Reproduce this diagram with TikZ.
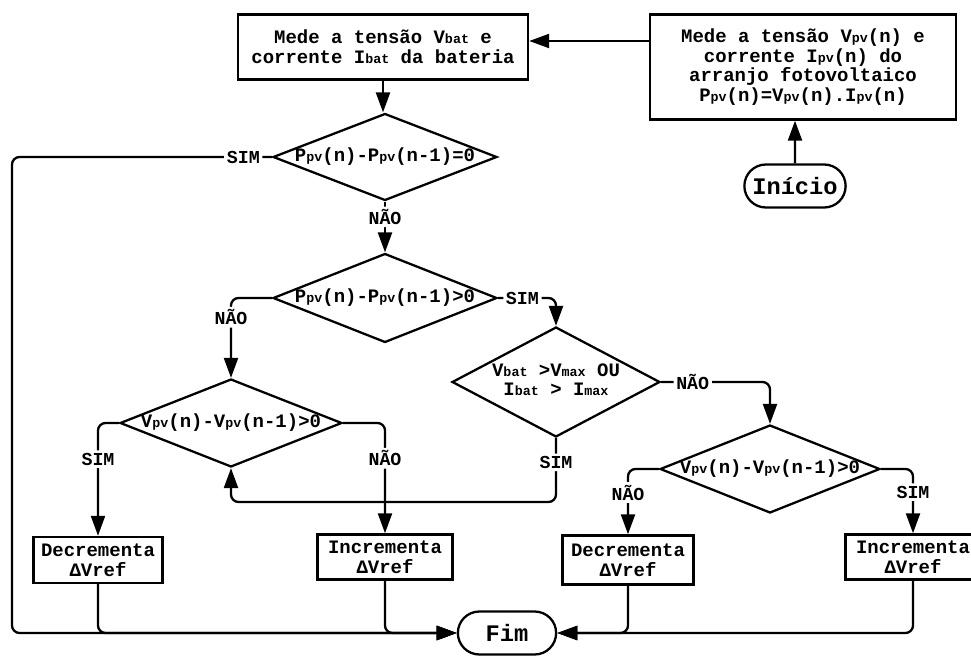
\documentclass[tikz,border=0pt]{standalone}
\usepackage{fontspec}
\setmonofont{Liberation Mono}
\usetikzlibrary{arrows.meta, shapes.geometric, shapes.misc, positioning}
\newcommand{\sbs}[1]{{\fontsize{7.6}{8}\selectfont #1}}
\tikzset{
	procbox/.style={
			rectangle, draw=black, line width=1.4pt, inner sep=2pt, align=center,
			font=\ttfamily\bfseries\fontsize{10.8}{11.2}\selectfont},
	decision/.style={
			diamond, draw=black, line width=1.3pt, inner sep=0pt,
			font=\ttfamily\bfseries\fontsize{10.8}{11.2}\selectfont},
	terminal/.style={
			rounded rectangle, draw=black, line width=1.3pt, minimum height=0.86cm,
			font=\ttfamily\bfseries\fontsize{13.5}{14}\selectfont},
	flow/.style={-{Triangle[length=0.4cm,width=0.28cm]}, line width=1.3pt, rounded corners=0.15cm},
	answer/.style={fill=white, inner sep=1.5pt, font=\ttfamily\bfseries\fontsize{10.4}{11}\selectfont},
}

\begin{document}
\begin{tikzpicture}[x=0.02cm, y=-0.02cm]
	\useasboundingbox (0,0) rectangle (971,666);

	% entrada
	\node[terminal, minimum width=2.26cm] (inicio) at (795,186) {Início};
	\node[procbox, minimum width=6.12cm, minimum height=2.1cm] (pv) at (803,67)
		{Mede a tensão V\sbs{pv}(n) e\\ corrente I\sbs{pv}(n) do\\ arranjo fotovoltaico\\ P\sbs{pv}(n)=V\sbs{pv}(n).I\sbs{pv}(n)};
	\node[procbox, minimum width=5.8cm, minimum height=1.3cm] (bat) at (383,47)
		{Mede a tensão V\sbs{bat} e\\ corrente I\sbs{bat} da bateria};

	% decisoes
	\node[decision, minimum width=4.48cm, minimum height=1.74cm] (dpow0) at (385,157)
		{\makebox[0pt]{P\sbs{pv}(n)-P\sbs{pv}(n-1)=0}};
	\node[decision, minimum width=4.48cm, minimum height=1.78cm] (dpow1) at (385,298)
		{\makebox[0pt]{P\sbs{pv}(n)-P\sbs{pv}(n-1)>0}};
	\node[decision, minimum width=4.44cm, minimum height=1.76cm] (dvolt1) at (231,423)
		{\makebox[0pt]{V\sbs{pv}(n)-V\sbs{pv}(n-1)>0}};
	\node[decision, minimum width=4.16cm, minimum height=2.2cm] (dlim) at (556,382)
		{\makebox[0pt]{\begin{tabular}{@{}c@{}}V\sbs{bat} >V\sbs{max} OU\\ I\sbs{bat} > I\sbs{max}\end{tabular}}};
	\node[decision, minimum width=4.4cm, minimum height=1.76cm] (dvolt2) at (770,469)
		{\makebox[0pt]{V\sbs{pv}(n)-V\sbs{pv}(n-1)>0}};

	% acoes
	\node[procbox, minimum width=2.58cm, minimum height=0.92cm] (dec1) at (98,560) {Decrementa\\ ΔVref};
	\node[procbox, minimum width=2.7cm, minimum height=0.9cm] (inc1) at (385,557) {Incrementa\\ ΔVref};
	\node[procbox, minimum width=2.62cm, minimum height=0.98cm] (dec2) at (628,560) {Decrementa\\ ΔVref};
	\node[procbox, minimum width=2.7cm, minimum height=0.9cm] (inc2) at (913,557) {Incrementa\\ ΔVref};

	\node[terminal, minimum width=2.2cm] (fim) at (507,633) {Fim};

	\coordinate (back) at (556,502);

	% ligacoes
	\draw[flow] (inicio) -- (inicio |- pv.south);
	\draw[flow] ([yshift=0.12cm]pv.west |- bat.east) -- ([yshift=0.12cm]bat.east);
	\draw[flow] (bat) -- (bat |- dpow0.north);
	\draw[flow] (dpow0) -- node[answer, pos=0.3]{NÃO} (dpow1);
	\draw[flow] (dpow0.west) -| node[answer, pos=0.055]{SIM} (12,633) -- (fim.west);
	\draw[flow] (dpow1.west) -| node[answer, pos=0.62]{NÃO} (dvolt1.north);
	\draw[flow] (dpow1.east) -| node[answer, pos=0.21]{SIM} (dlim.north);
	\draw[flow] (dlim.east) -| node[answer, pos=0.145]{NÃO} (dvolt2.north);
	\draw[flow] (dlim.south) -- node[answer, pos=0.38]{SIM} (back) -| (dvolt1.south);
	\draw[flow] (dvolt1.west) -| node[answer, pos=0.66]{SIM} (dec1.north);
	\draw[flow] (dvolt1.east) -| node[answer, pos=0.66]{NÃO} (inc1.north);
	\draw[flow] (dvolt2.west) -| node[answer, pos=0.68]{NÃO} (dec2.north);
	\draw[flow] (dvolt2.east) -| node[answer, pos=0.68]{SIM} (inc2.north);
	\draw[flow] (dec1.south) |- (fim.west);
	\draw[flow] (inc1.south) |- (fim.west);
	\draw[flow] (dec2.south) |- (fim.east);
	\draw[flow] (inc2.south) |- (fim.east);
\end{tikzpicture}
\end{document}
